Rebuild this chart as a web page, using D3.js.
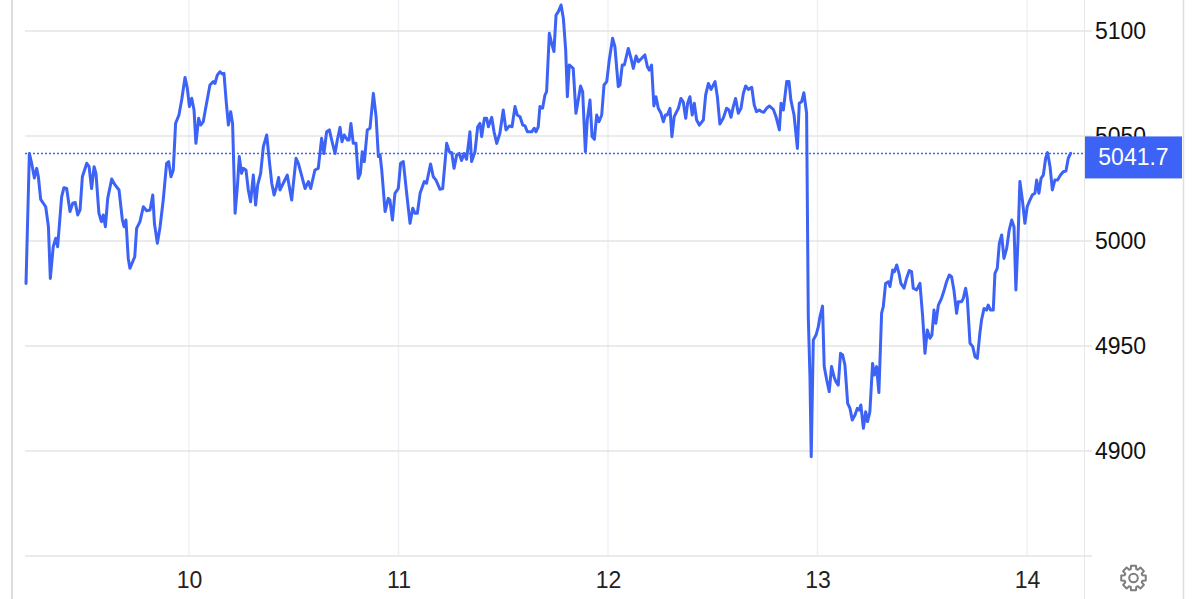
<!DOCTYPE html>
<html><head><meta charset="utf-8">
<script src="https://cdn.jsdelivr.net/npm/d3@7"></script>
<style>
html,body{margin:0;padding:0;background:#fff;}
svg{display:block;font-family:"Liberation Sans",Arial,Helvetica,sans-serif;}
</style></head><body>
<svg id="chart" width="1200" height="599"></svg>
<script>
// ---- data ----
const dayTicks = [10, 11, 12, 13, 14];
const priceTicks = [4900, 4950, 5000, 5050, 5100];
const gridPrices = [4850, 4900, 4950, 5000, 5050, 5100];
const lastPrice = 5041.7;

// [day (fractional), price]
const partA = [[9.222,4979.8],[9.238,5041.7],[9.249,5037],[9.262,5030],[9.273,5034.6],[9.281,5030.6],[9.292,5019.8],[9.316,5016.3],[9.329,5006.8],[9.338,4982.2],[9.352,4997.3],[9.364,5001.3],[9.373,4997.3],[9.392,5021],[9.403,5025.4],[9.416,5025],[9.432,5014],[9.445,5018],[9.457,5018.3],[9.469,5012.4],[9.480,5014.8],[9.491,5030.6],[9.512,5037],[9.523,5035.4],[9.535,5025],[9.547,5035.4],[9.556,5032.2],[9.570,5013.2],[9.582,5009.2],[9.591,5012.4],[9.601,5006.8],[9.612,5020.3],[9.631,5029.5],[9.647,5026.7],[9.666,5024.3],[9.682,5010],[9.690,5006.8],[9.699,5010],[9.710,4991.7],[9.718,4987],[9.741,4992.5],[9.750,5006],[9.766,5009.2],[9.782,5016.3],[9.798,5014.4],[9.814,5014.8],[9.827,5021.9],[9.835,5008.4],[9.849,4998.9],[9.862,5006.8],[9.877,5019.5],[9.893,5037],[9.903,5037.8],[9.914,5030.6],[9.925,5033.8],[9.936,5056],[9.952,5060],[9.965,5067.1],[9.981,5077.9],[9.992,5072.7],[10.002,5064],[10.013,5068],[10.024,5062.4],[10.033,5046.5],[10.046,5058.4],[10.056,5055.2],[10.068,5056.8],[10.081,5064],[10.100,5074.3],[10.116,5075.9],[10.124,5075],[10.135,5079],[10.148,5080.6],[10.159,5079.5],[10.167,5079.8],[10.177,5067.1],[10.188,5055.2],[10.199,5061.6],[10.208,5056],[10.220,5013.2],[10.231,5025.9],[10.240,5040.2],[10.251,5032.2],[10.259,5034.6],[10.272,5033.8],[10.283,5024.3],[10.294,5018.7],[10.307,5031.4],[10.318,5017.1],[10.328,5026.7],[10.342,5032.2],[10.355,5044.9],[10.371,5050.5],[10.383,5038.6],[10.395,5027.5],[10.406,5021.9],[10.418,5025.9],[10.428,5030.2]];

const partB = [[10.434,5024.3],[10.450,5027.5],[10.469,5031.4],[10.490,5019.5],[10.511,5039.4],[10.522,5037],[10.554,5025],[10.570,5028.3],[10.581,5025],[10.601,5033.8],[10.617,5034.6],[10.633,5048.9],[10.644,5041.7],[10.657,5052],[10.670,5052.9],[10.681,5048.1],[10.697,5041.7],[10.708,5048.1],[10.721,5054.1],[10.730,5047.3],[10.741,5050.5],[10.756,5048.1],[10.764,5048.1],[10.773,5056],[10.784,5046.5],[10.797,5046.5],[10.808,5029.8],[10.818,5032.2],[10.827,5042.5],[10.837,5037.8],[10.851,5052.9],[10.864,5053.7],[10.880,5070.3],[10.893,5059.2],[10.904,5040.2],[10.912,5041],[10.920,5033.8],[10.936,5014],[10.951,5020.3],[10.959,5019.5],[10.971,5010],[10.983,5022.7],[10.999,5025],[11.010,5037],[11.023,5037.8],[11.039,5022.7],[11.055,5008.4],[11.068,5015.6],[11.079,5013.2],[11.090,5013.2],[11.103,5022.7],[11.123,5028.3],[11.134,5027.5],[11.153,5036.7],[11.166,5030.6],[11.179,5029],[11.198,5024.6],[11.211,5025],[11.230,5046.5],[11.243,5042.5],[11.254,5042.1],[11.265,5034.6],[11.278,5041],[11.290,5041.7],[11.301,5038.3],[11.313,5041.7],[11.325,5038.9],[11.341,5052],[11.349,5037.8],[11.365,5042.5],[11.378,5054.4],[11.389,5056],[11.397,5049.7],[11.410,5058.4],[11.421,5058.4],[11.429,5054.4],[11.445,5058.9],[11.456,5052],[11.469,5046.5],[11.484,5051.3],[11.500,5062.4],[11.513,5052.9],[11.529,5054.8],[11.542,5054.4],[11.556,5064],[11.567,5060],[11.580,5059.2],[11.593,5055.2],[11.604,5054.8],[11.615,5052],[11.636,5052],[11.648,5053.7],[11.656,5052],[11.667,5054.4],[11.675,5064],[11.688,5063.3],[11.699,5069.5],[11.707,5071.1],[11.720,5098.9],[11.731,5094.1],[11.742,5090.2],[11.752,5107.6],[11.763,5109.2],[11.776,5112.4],[11.787,5106],[11.798,5090.9]];

const partC = [[11.806,5068.7],[11.815,5083.8],[11.834,5082.2],[11.847,5060.8],[11.858,5067.1],[11.869,5073.8],[11.879,5071.1],[11.892,5042.5],[11.901,5057.6],[11.914,5067.1],[11.924,5049.7],[11.935,5048.4],[11.946,5060],[11.957,5056.8],[11.970,5060],[11.981,5074.3],[11.994,5075.9],[12.006,5086.2],[12.022,5096.5],[12.033,5092.5],[12.049,5073.5],[12.057,5074.3],[12.068,5083.8],[12.078,5083.8],[12.097,5091.7],[12.110,5087],[12.121,5082.2],[12.134,5088.1],[12.145,5085.4],[12.161,5087],[12.176,5088.6],[12.188,5083],[12.197,5081.4],[12.208,5083.8],[12.219,5064.3],[12.229,5068.7],[12.240,5063.2],[12.253,5060.8],[12.264,5056.8],[12.274,5060],[12.283,5060],[12.296,5063.2],[12.305,5049.7],[12.316,5059.2],[12.336,5063.2],[12.348,5067.9],[12.359,5066.3],[12.371,5058.4],[12.380,5065.6],[12.391,5068.7],[12.402,5060],[12.412,5065.6],[12.423,5057.6],[12.436,5055.2],[12.455,5057.6],[12.466,5069.5],[12.479,5075],[12.492,5072.2],[12.511,5075.9],[12.522,5068.7],[12.534,5055.7],[12.550,5058.4],[12.566,5063.2],[12.577,5062.4],[12.587,5058.9],[12.598,5064],[12.609,5067.9],[12.622,5060.8],[12.635,5063.2],[12.646,5070.3],[12.657,5073.8],[12.670,5072.2],[12.686,5073.2],[12.698,5064.8],[12.709,5061.6],[12.722,5062.4],[12.733,5061.6],[12.744,5061.3],[12.757,5063.2],[12.770,5064.3],[12.789,5062.7],[12.802,5059.2],[12.818,5052.9],[12.826,5065.6],[12.837,5062.4],[12.853,5075.9],[12.864,5075.9],[12.873,5067.1],[12.888,5060],[12.904,5044.1],[12.913,5065.6],[12.924,5066.3],[12.935,5070.6],[12.948,5060.8]];

const partD = [[12.956,4964],[12.964,4935.4],[12.970,4897.3],[12.980,4952.9],[12.993,4955.2],[13.004,4959.2],[13.012,4964],[13.024,4969],[13.032,4940.2],[13.044,4933.8],[13.056,4928.3],[13.067,4940.2],[13.079,4935.4],[13.088,4933],[13.099,4931.4],[13.110,4946.5],[13.120,4945.7],[13.131,4940.9],[13.144,4922.7],[13.155,4920.3],[13.166,4914.8],[13.179,4917.1],[13.190,4920.3],[13.199,4919.5],[13.207,4921.9],[13.219,4910.8],[13.230,4918.7],[13.239,4914],[13.250,4918.7],[13.263,4941.7],[13.271,4936.2],[13.282,4940.2],[13.293,4927.8],[13.306,4965.6],[13.314,4968.7],[13.325,4979.8],[13.338,4980.6],[13.346,4978.3],[13.359,4986.2],[13.367,4985.4],[13.378,4988.6],[13.389,4984.6],[13.398,4979.8],[13.413,4977.5],[13.425,4982.2],[13.438,4985.9],[13.449,4985.4],[13.457,4977.5],[13.473,4976.7],[13.489,4979.8],[13.502,4964],[13.513,4946.5],[13.524,4957.6],[13.537,4953.7],[13.546,4955.2],[13.556,4967.1],[13.565,4960.8],[13.577,4969.5],[13.592,4972.7],[13.605,4976.7],[13.616,4980.6],[13.629,4983.8],[13.640,4983],[13.651,4976.7],[13.664,4965.6],[13.672,4971.1],[13.688,4971.1],[13.696,4972.7],[13.707,4977.5],[13.715,4972.7],[13.728,4951.3],[13.741,4949.7],[13.752,4944.9],[13.763,4944.1],[13.775,4956],[13.783,4962.4],[13.795,4967.9],[13.807,4967.1],[13.815,4969.5],[13.826,4967.1],[13.839,4967.1],[13.847,4984.6],[13.858,4987],[13.868,4998.9],[13.879,5002.9],[13.890,4991.7],[13.903,4996.5],[13.915,5005.2],[13.927,5010],[13.938,5006.8],[13.947,4976.7],[13.957,5000.5],[13.966,5028.3],[13.978,5019.5],[13.990,5008.4],[14.001,5016.3],[14.014,5019.5],[14.025,5021.9],[14.038,5022.7],[14.046,5029],[14.057,5022.7],[14.067,5029.8],[14.078,5031.4],[14.089,5039.4],[14.098,5042.1],[14.110,5035.4],[14.121,5024.3],[14.133,5029],[14.146,5029],[14.160,5031.4],[14.173,5033],[14.186,5033.3],[14.197,5039.4],[14.208,5041.7]];

const series = [...partA, ...partB, ...partC, ...partD].map(([d, v]) => ({ d, v }));

// ---- layout ----
const plotLeft = 25, plotRight = 1084, tickEnd = 1092, plotBottom = 556;
const blue = "#3c63f5";
const svg = d3.select("#chart");

const x = d3.scaleLinear().domain([10, 14]).range([189, 1027]);
const y = d3.scaleLinear().domain([4850, 5100]).range([plotBottom, 31]);

// frame lines
svg.append("line").attr("x1", 12).attr("x2", 12).attr("y1", 0).attr("y2", 599)
  .attr("stroke", "#dcdcdc").attr("stroke-width", 2);
svg.append("line").attr("x1", plotRight + 0.5).attr("x2", plotRight + 0.5).attr("y1", 0).attr("y2", 599)
  .attr("stroke", "#e6e6e6").attr("stroke-width", 1);
svg.append("line").attr("x1", 1183.5).attr("x2", 1183.5).attr("y1", 0).attr("y2", 599)
  .attr("stroke", "#dedede").attr("stroke-width", 1.5);

// vertical grid
svg.append("g").selectAll("line").data(dayTicks).join("line")
  .attr("x1", d => x(d)).attr("x2", d => x(d)).attr("y1", 0).attr("y2", plotBottom)
  .attr("stroke", "#edf1f6").attr("stroke-width", 1.5);

// horizontal grid
svg.append("g").selectAll("line").data(gridPrices).join("line")
  .attr("x1", plotLeft).attr("x2", tickEnd).attr("y1", d => y(d)).attr("y2", d => y(d))
  .attr("stroke", "#e4e4e4").attr("stroke-width", 1.5);

// x axis labels
const xAxis = d3.axisBottom(x).tickValues(dayTicks).tickSize(0).tickPadding(16).tickFormat(d3.format("d"));
const gx = svg.append("g").attr("transform", `translate(0,${plotBottom})`).call(xAxis);
gx.select(".domain").remove();
gx.selectAll("text").attr("font-size", 23).attr("fill", "#222").attr("font-family", "Liberation Sans, Arial, sans-serif");

// y axis labels
const yAxis = d3.axisRight(y).tickValues(priceTicks).tickSize(0).tickPadding(11).tickFormat(d3.format("d"));
const gy = svg.append("g").attr("transform", `translate(${plotRight},0)`).call(yAxis);
gy.select(".domain").remove();
gy.selectAll("text").attr("font-size", 23).attr("fill", "#111").attr("font-family", "Liberation Sans, Arial, sans-serif");

// last price dotted line
svg.append("line").attr("x1", plotLeft).attr("x2", plotRight)
  .attr("y1", y(lastPrice)).attr("y2", y(lastPrice))
  .attr("stroke", blue).attr("stroke-width", 1.5).attr("stroke-dasharray", "2,2");

// price line
const line = d3.line().x(d => x(d.d)).y(d => y(d.v));
svg.append("path").datum(series).attr("d", line)
  .attr("fill", "none").attr("stroke", blue).attr("stroke-width", 3)
  .attr("stroke-linejoin", "round").attr("stroke-linecap", "round");

// last price box
const boxH = 42;
svg.append("rect").attr("x", plotRight + 1).attr("y", y(lastPrice) - 17)
  .attr("width", 97).attr("height", boxH).attr("fill", blue);
svg.append("text").attr("x", plotRight + 1 + 48.5).attr("y", y(lastPrice) - 17 + boxH / 2)
  .attr("text-anchor", "middle").attr("dominant-baseline", "central")
  .attr("font-size", 23).attr("fill", "#fff").text(d3.format(".1f")(lastPrice));

// gear icon
(function () {
  const cx = 1133.5, cy = 578, teeth = 8, rO = 12.5, rI = 9.3;
  const pts = [];
  for (let i = 0; i < teeth; i++) {
    const a = i * 2 * Math.PI / teeth;
    const hw = 0.2, hr = 0.3;
    pts.push([a - hr, rI], [a - hw, rO], [a + hw, rO], [a + hr, rI]);
  }
  const path = d3.path();
  pts.forEach(([a, r], i) => {
    const px = cx + r * Math.cos(a), py = cy + r * Math.sin(a);
    if (i === 0) path.moveTo(px, py); else path.lineTo(px, py);
  });
  path.closePath();
  svg.append("path").attr("d", path.toString()).attr("fill", "none")
    .attr("stroke", "#7d7d7d").attr("stroke-width", 2).attr("stroke-linejoin", "round");
  svg.append("circle").attr("cx", cx).attr("cy", cy).attr("r", 4.3)
    .attr("fill", "none").attr("stroke", "#7d7d7d").attr("stroke-width", 2);
})();
</script>
</body></html>
